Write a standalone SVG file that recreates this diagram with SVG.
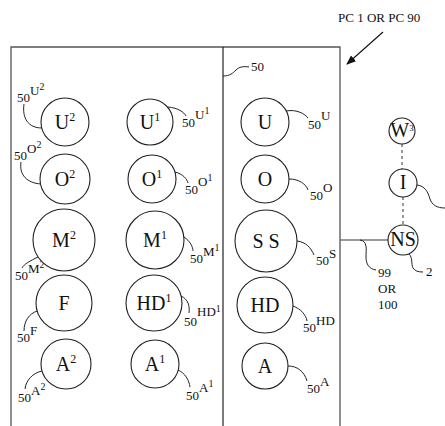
<svg xmlns="http://www.w3.org/2000/svg" width="445" height="426" viewBox="0 0 445 426">
<style>
.n{fill:#fff;stroke:#222;stroke-width:1.1}
.t{font-family:"Liberation Serif",serif;font-size:20px;fill:#111;text-anchor:middle}
.s{font-size:12px}
.l{font-family:"Liberation Serif",serif;font-size:13px;fill:#111}
.ld{fill:none;stroke:#222;stroke-width:1}
.fr{fill:none;stroke:#555;stroke-width:1.3}
</style>
<defs>
<marker id="ah" viewBox="0 0 10 10" refX="9" refY="5" markerWidth="8" markerHeight="8" orient="auto"><path d="M0,1 L10,5 L0,9 z" fill="#111"/></marker>
</defs>
<rect width="445" height="426" fill="#fff"/>
<g id="frame">
<path class="fr" d="M11,426 V47 H340 V426"/>
<line x1="223" y1="47" x2="223" y2="426" stroke="#222" stroke-width="1.2"/>
</g>
<g id="connectors">
<line x1="383" y1="32" x2="347" y2="64" stroke="#111" stroke-width="1.2" marker-end="url(#ah)"/>
<path class="ld" d="M223,76 C230,76 233,73 236,70 C239,67 243,66 249,67"/>
<line x1="340" y1="240" x2="388" y2="240" stroke="#777" stroke-width="1.3"/>
<line x1="402" y1="144" x2="402" y2="169" stroke="#333" stroke-width="1" stroke-dasharray="3,3"/>
<line x1="403" y1="197" x2="403" y2="225" stroke="#333" stroke-width="1" stroke-dasharray="3,3"/>
<path class="ld" d="M360,240 C368,241 366,250 366,257 C366,264 369,269 376,270"/>
<path class="ld" d="M417,185 C425,186 428,192 430,199 C432,205 437,208 445,208"/>
<path class="ld" d="M409,254 C413,258 411,264 413,268 C415,271 418,272 423,272"/>
<path class="ld" d="M24,104 C22,118 28,128 42,128"/>
<path class="ld" d="M21,162 C19,175 27,183 41,184"/>
<path class="ld" d="M38,257 C30,261 24,264 22,268"/>
<path class="ld" d="M24,331 C24,321 29,314 37,311"/>
<path class="ld" d="M25,389 C26,380 33,373 42,371"/>
<path class="ld" d="M168,107 C178,108 184,112 186,116"/>
<path class="ld" d="M175,172 C183,174 187,179 188,183"/>
<path class="ld" d="M184,237 C190,241 193,247 193,251"/>
<path class="ld" d="M181,296 C188,299 190,306 189,313"/>
<path class="ld" d="M178,370 C185,373 189,380 190,387"/>
<path class="ld" d="M286,111 C297,109 305,114 308,118"/>
<path class="ld" d="M289,179 C299,179 306,184 308,190"/>
<path class="ld" d="M297,241 C306,242 311,248 314,255"/>
<path class="ld" d="M293,306 C301,309 306,315 307,321"/>
<path class="ld" d="M288,366 C297,366 304,371 307,381"/>
</g>
<g id="labels">
<text class="l" x="338" y="22" font-size="13">PC 1 OR PC 90</text>
<text class="l" x="251" y="71">50</text>
<text class="l" x="378" y="277">99</text>
<text class="l" x="378" y="293">OR</text>
<text class="l" x="378" y="309">100</text>
<text class="l" x="426" y="276">2</text>
<text class="l" x="17" y="102">50<tspan dy="-7">U</tspan><tspan dy="-5" font-size="10">2</tspan></text>
<text class="l" x="14" y="160">50<tspan dy="-7">O</tspan><tspan dy="-5" font-size="10">2</tspan></text>
<text class="l" x="15" y="280">50<tspan dy="-7">M</tspan><tspan dy="-5" font-size="10">2</tspan></text>
<text class="l" x="17" y="342">50<tspan dy="-7">F</tspan></text>
<text class="l" x="18" y="402">50<tspan dy="-7">A</tspan><tspan dy="-5" font-size="10">2</tspan></text>
<text class="l" x="182" y="127">50<tspan dy="-8">U</tspan><tspan dy="-5" font-size="10">1</tspan></text>
<text class="l" x="185" y="194">50<tspan dy="-8">O</tspan><tspan dy="-5" font-size="10">1</tspan></text>
<text class="l" x="190" y="263">50<tspan dy="-7">M</tspan><tspan dy="-5" font-size="10">1</tspan></text>
<text class="l" x="184" y="326">50<tspan dy="-10">HD</tspan><tspan dy="-4" font-size="10">1</tspan></text>
<text class="l" x="186" y="400">50<tspan dy="-8">A</tspan><tspan dy="-5" font-size="10">1</tspan></text>
<text class="l" x="308" y="129">50<tspan dy="-9">U</tspan></text>
<text class="l" x="310" y="200">50<tspan dy="-8">O</tspan></text>
<text class="l" x="316" y="265">50<tspan dy="-7">S</tspan></text>
<text class="l" x="303" y="332">50<tspan dy="-7">HD</tspan></text>
<text class="l" x="307" y="393">50<tspan dy="-7">A</tspan></text>
</g>
<g id="U2"><circle class="n" cx="65" cy="122" r="24"/><text class="t" x="65" y="129">U<tspan class="s" dy="-8">2</tspan></text></g>
<g id="O2"><circle class="n" cx="65" cy="179" r="25"/><text class="t" x="65" y="186">O<tspan class="s" dy="-8">2</tspan></text></g>
<g id="M2"><circle class="n" cx="64" cy="240" r="31"/><text class="t" x="64" y="247">M<tspan class="s" dy="-8">2</tspan></text></g>
<g id="F"><circle class="n" cx="64" cy="303" r="28"/><text class="t" x="64" y="310">F</text></g>
<g id="A2"><circle class="n" cx="66" cy="364" r="25"/><text class="t" x="66" y="371">A<tspan class="s" dy="-8">2</tspan></text></g>
<g id="U1"><circle class="n" cx="150" cy="122" r="23"/><text class="t" x="150" y="129">U<tspan class="s" dy="-8">1</tspan></text></g>
<g id="O1"><circle class="n" cx="152" cy="179" r="24"/><text class="t" x="152" y="186">O<tspan class="s" dy="-8">1</tspan></text></g>
<g id="M1"><circle class="n" cx="155" cy="240" r="29"/><text class="t" x="155" y="247">M<tspan class="s" dy="-8">1</tspan></text></g>
<g id="HD1"><circle class="n" cx="154" cy="303" r="28"/><text class="t" x="154" y="310">HD<tspan class="s" dy="-8">1</tspan></text></g>
<g id="A1"><circle class="n" cx="155" cy="364" r="24"/><text class="t" x="155" y="371">A<tspan class="s" dy="-8">1</tspan></text></g>
<g id="U"><circle class="n" cx="265" cy="122" r="24"/><text class="t" x="265" y="129">U</text></g>
<g id="O"><circle class="n" cx="265" cy="179" r="24"/><text class="t" x="265" y="186">O</text></g>
<g id="SS"><circle class="n" cx="266" cy="241" r="31"/><text class="t" x="266" y="248">S S</text></g>
<g id="HD"><circle class="n" cx="265" cy="305" r="28"/><text class="t" x="265" y="312">HD</text></g>
<g id="A"><circle class="n" cx="265" cy="366" r="23"/><text class="t" x="265" y="373">A</text></g>
<g id="W3"><circle class="n" cx="402" cy="131" r="13"/><text class="t" x="402" y="137" font-size="15">W<tspan font-size="9" dy="-6">3</tspan></text></g>
<g id="I"><circle class="n" cx="403" cy="183" r="14"/><text class="t" x="403" y="189" font-size="16">I</text></g>
<g id="NS"><circle class="n" cx="403" cy="240" r="15"/><text class="t" x="403" y="246" font-size="15">NS</text></g>
</svg>
